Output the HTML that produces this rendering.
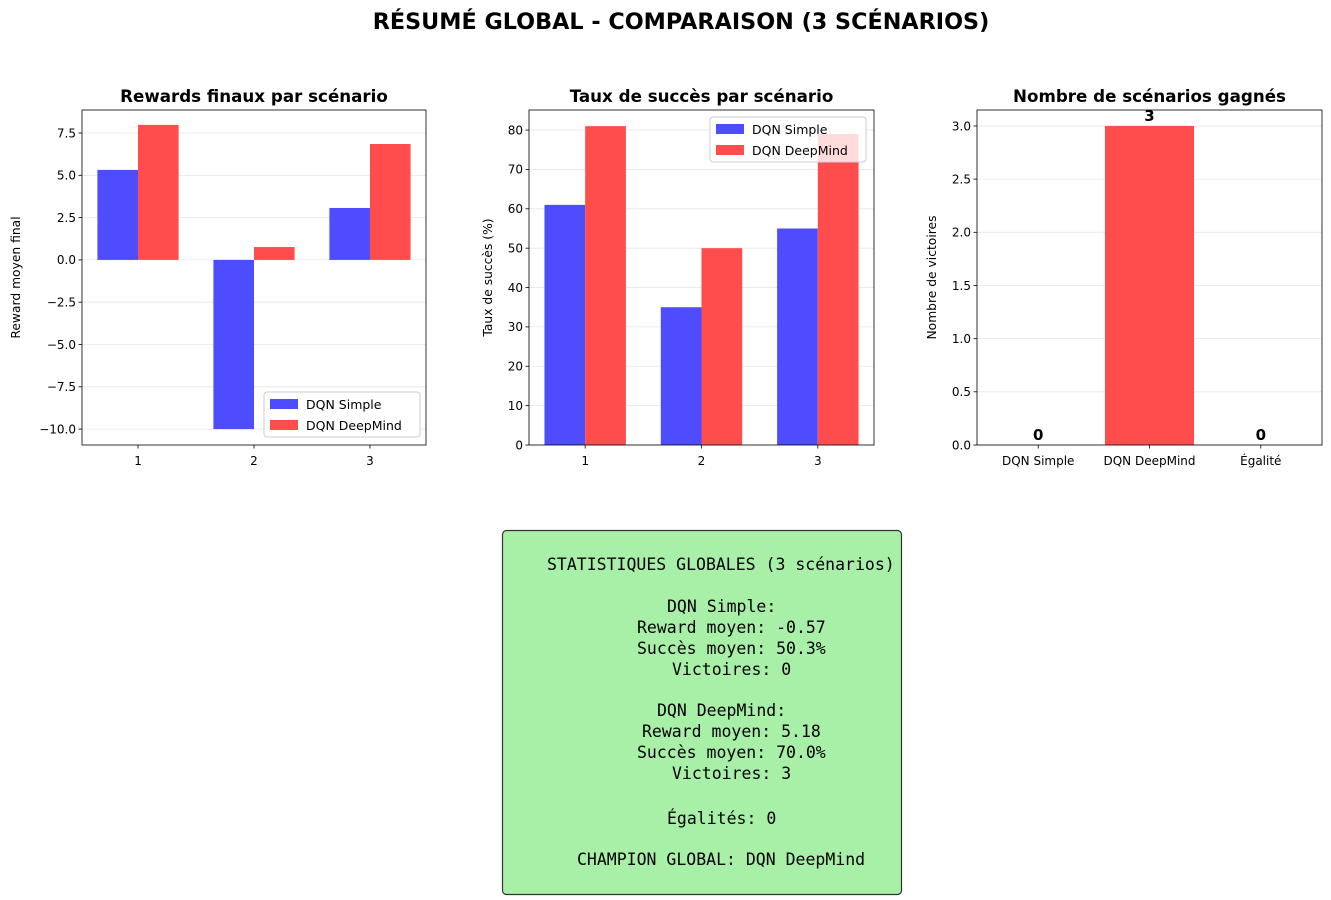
<!DOCTYPE html>
<html><head><meta charset="utf-8">
<style>
body{margin:0;background:#fff;}
svg{display:block;font-family:"DejaVu Sans","Liberation Sans",sans-serif;}
.mono{font-family:"DejaVu Sans Mono","Liberation Mono",monospace;font-size:16.5px;}
</style></head>
<body>
<svg id="fig" width="1331" height="900" viewBox="0 0 1331 900" xmlns="http://www.w3.org/2000/svg">
<text x="681" y="29" text-anchor="middle" font-size="22.3" font-weight="bold">RÉSUMÉ GLOBAL - COMPARAISON (3 SCÉNARIOS)</text>
<g id="c1"></g>
<g id="c2"></g>
<g id="c3"></g>
<g>
<rect x="502.5" y="530.5" width="399" height="364" rx="4" fill="#a8f0a8" stroke="#333" stroke-width="1.2"/>
<g class="mono" fill="#000">
<text x="547" y="570">STATISTIQUES GLOBALES (3 scénarios)</text>
<text x="667" y="612">DQN Simple:</text>
<text x="637" y="633">Reward moyen: -0.57</text>
<text x="637" y="654">Succès moyen: 50.3%</text>
<text x="672" y="675">Victoires: 0</text>
<text x="657" y="716">DQN DeepMind:</text>
<text x="642" y="737">Reward moyen: 5.18</text>
<text x="637" y="758">Succès moyen: 70.0%</text>
<text x="672" y="779">Victoires: 3</text>
<text x="667" y="824">Égalités: 0</text>
<text x="577" y="865">CHAMPION GLOBAL: DQN DeepMind</text>
</g></g>
</svg>
<script>
const scenarios=["1","2","3"];
const rewardSimple=[5.32,-10.0,3.07];
const rewardDeep=[7.98,0.76,6.85];
const successSimple=[61,35,55];
const successDeep=[81,50,79];
const winCats=["DQN Simple","DQN DeepMind","Égalité"];
const winVals=[0,3,0];
const rewardTicks=[-10,-7.5,-5,-2.5,0,2.5,5,7.5];
const rewardTickLabels=["−10.0","−7.5","−5.0","−2.5","0.0","2.5","5.0","7.5"];
const successTicks=[0,10,20,30,40,50,60,70,80];
const winTicks=[0,0.5,1,1.5,2,2.5,3];
const winTickLabels=["0.0","0.5","1.0","1.5","2.0","2.5","3.0"];

const NS="http://www.w3.org/2000/svg";
const BLUE="rgb(77,77,255)",RED="rgb(255,77,77)";
function mk(p,tag,a,txt){const e=document.createElementNS(NS,tag);for(const k in a)e.setAttribute(k,a[k]);if(txt!==undefined)e.textContent=txt;p.appendChild(e);return e;}

function axes(g,L,T,R,B,ymin,ymax,xmin,xmax,title,ylabel,ticks,tlabels,xcats,xticksVal,ylx){
  const y=v=>B-(v-ymin)/(ymax-ymin)*(B-T);
  const x=v=>L+(v-xmin)/(xmax-xmin)*(R-L);
  ticks.forEach((t,i)=>{
    const gl=mk(g,'line',{x1:L,x2:R,y1:y(t),y2:y(t),stroke:'#b0b0b0','stroke-opacity':0.3,'stroke-width':0.8});
    
    
    mk(g,'line',{x1:L-3.5,x2:L,y1:y(t),y2:y(t),stroke:'#000','stroke-width':0.8});
    const tl=mk(g,'text',{x:L-6,y:y(t)+4.3,'text-anchor':'end','font-size':12},tlabels[i]);
    
    
  });
  const tt=mk(g,'text',{x:(L+R)/2,y:T-8,'text-anchor':'middle','font-size':16.7,'font-weight':'bold'},title);
  
  
  const yl=mk(g,'text',{x:0,y:0,'text-anchor':'middle','font-size':12.3,transform:`translate(${ylx+4},${(T+B)/2}) rotate(-90)`},ylabel);
  
  
  return {x,y,L,T,R,B,fin(){
    xcats.forEach((c,i)=>{const xv=x(xticksVal[i]);
      mk(g,'line',{x1:xv,x2:xv,y1:B,y2:B+3.5,stroke:'#000','stroke-width':0.8});
      const xl=mk(g,'text',{x:xv,y:B+20,'text-anchor':'middle','font-size':12},c);
      
      });
    mk(g,'rect',{x:L,y:T,width:R-L,height:B-T,fill:'none',stroke:'#000','stroke-width':0.8});
  }};
}
function legend(g,lx,ly){
  mk(g,'rect',{x:lx,y:ly,width:156,height:45,rx:3,fill:'#fff','fill-opacity':0.8,stroke:'#ccc'});
  [["DQN Simple",BLUE],["DQN DeepMind",RED]].forEach((d,i)=>{
    const s=mk(g,'rect',{x:lx+6,y:ly+7+i*21,width:28,height:10,fill:d[1]});
    
    
    const t=mk(g,'text',{x:lx+42,y:ly+17+i*21,'font-size':12.5},d[0]);
    
    
  });
}
function grouped(g,a,s1,s2){
  const w=0.35;
  scenarios.forEach((c,i)=>{
    const xc=i+1;
    [[s1[i],-w,BLUE,'bar-simple'],[s2[i],0,RED,'bar-deepmind']].forEach(d=>{
      const x0=a.x(xc+d[1]),x1=a.x(xc+d[1]+w);
      const y0=a.y(Math.max(0,d[0])),y1=a.y(Math.min(0,d[0]));
      const r=mk(g,'rect',{x:x0,y:y0,width:x1-x0,height:y1-y0,fill:d[2]});
      
      
    });
  });
}
const g1=document.getElementById('c1');
const a1=axes(g1,82,110,426,445,-10.94,8.86,0.517,3.483,"Rewards finaux par scénario","Reward moyen final",rewardTicks,rewardTickLabels,scenarios,[1,2,3],16);
grouped(g1,a1,rewardSimple,rewardDeep);a1.fin();legend(g1,264,392);
const g2=document.getElementById('c2');
const a2=axes(g2,529,110,874,445,0,85.1,0.517,3.483,"Taux de succès par scénario","Taux de succès (%)",successTicks,successTicks.map(String),scenarios,[1,2,3],488);
grouped(g2,a2,successSimple,successDeep);a2.fin();legend(g2,710,117);
const g3=document.getElementById('c3');
const a3=axes(g3,977,110,1322,445,0,3.15,-0.55,2.55,"Nombre de scénarios gagnés","Nombre de victoires",winTicks,winTickLabels,winCats,[0,1,2],932);
const cols=[BLUE,RED,"#888"];
winVals.forEach((v,i)=>{
  const x0=a3.x(i-0.4),x1=a3.x(i+0.4);
  const r=mk(g3,'rect',{x:x0,y:a3.y(v),width:x1-x0,height:a3.y(0)-a3.y(v),fill:cols[i]});
  
  
  const t=mk(g3,'text',{x:a3.x(i),y:a3.y(v)-5,'text-anchor':'middle','font-size':15,'font-weight':'bold'},String(v));
  
  
});
a3.fin();
</script>
</body></html>
